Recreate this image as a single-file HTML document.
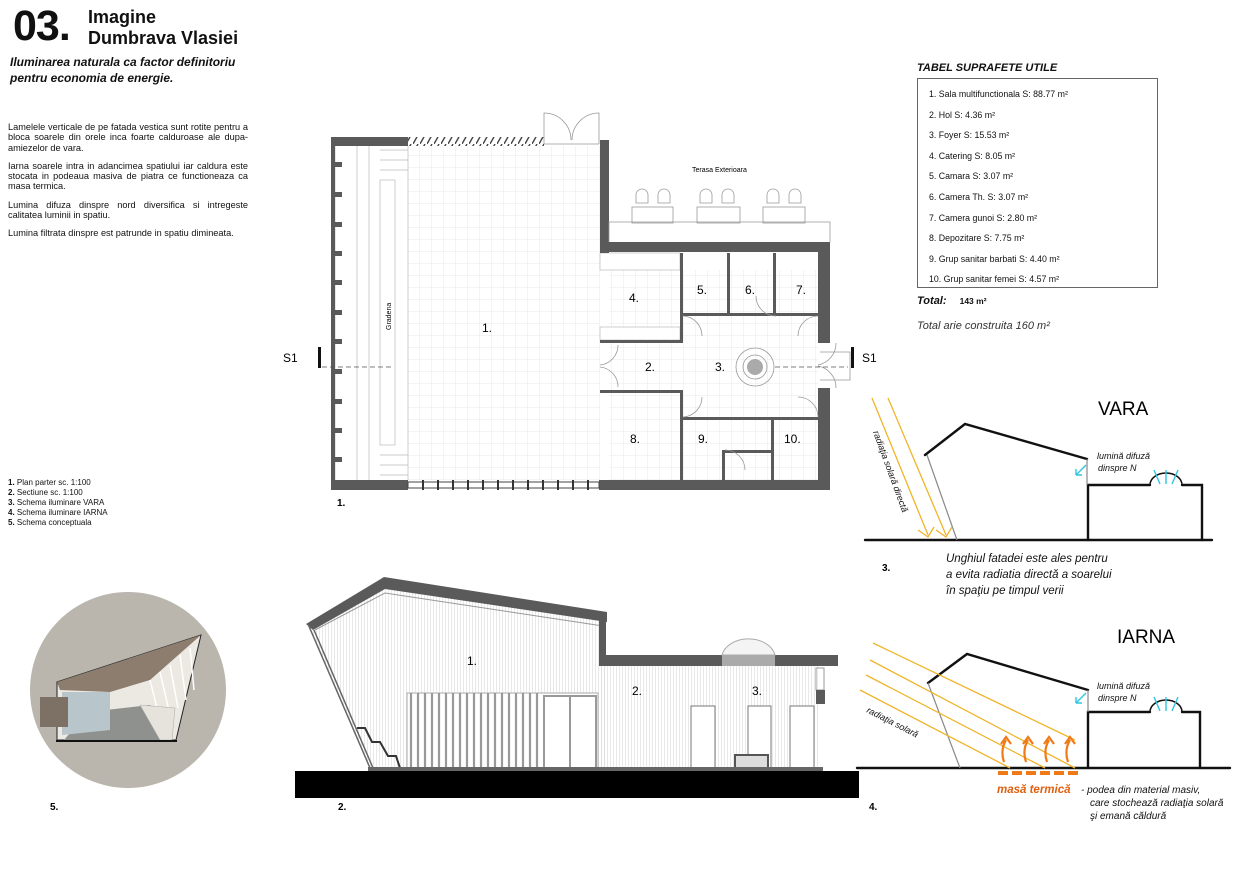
<!DOCTYPE html>
<html><head><meta charset="utf-8"><style>
html,body{margin:0;padding:0;background:#fff;}
body{width:1240px;height:877px;position:relative;overflow:hidden;font-family:"Liberation Sans",sans-serif;color:#111;}
.t{position:absolute;white-space:nowrap;}
.p{position:absolute;left:8px;width:240px;font-size:9.2px;line-height:10.3px;text-align:justify;}
.p div{margin-bottom:8px;}
</style></head><body>
<div class="t" style="left:13px;top:2px;font-size:43px;font-weight:bold;letter-spacing:-1px;">03.</div>
<div class="t" style="left:88px;top:7px;font-size:18px;font-weight:bold;line-height:21px;"><b>Imagine<br>Dumbrava Vlasiei</b></div>
<div class="t" style="left:10px;top:55px;font-size:12px;font-weight:bold;font-style:italic;line-height:15.5px;">Iluminarea naturala ca factor definitoriu<br>pentru economia de energie.</div>
<div class="p" style="top:122px;">
<div>Lamelele verticale de pe fatada vestica sunt rotite pentru a bloca soarele din orele inca foarte calduroase ale dupa-amiezelor de vara.</div>
<div>Iarna soarele intra in adancimea spatiului iar caldura este stocata in podeaua masiva de piatra ce functioneaza ca masa termica.</div>
<div>Lumina difuza dinspre nord diversifica si intregeste calitatea luminii in spatiu.</div>
<div>Lumina filtrata dinspre est patrunde in spatiu dimineata.</div>
</div>
<div class="t" style="left:8px;top:478px;font-size:8px;line-height:10px;"><b>1.</b> Plan parter sc. 1:100<br><b>2.</b> Sectiune sc. 1:100<br><b>3.</b> Schema iluminare VARA<br><b>4.</b> Schema iluminare IARNA<br><b>5.</b> Schema conceptuala</div>

<div class="t" style="left:917px;top:62px;font-size:11px;font-weight:bold;font-style:italic;">TABEL SUPRAFETE UTILE</div>
<div style="position:absolute;left:917px;top:78px;width:239px;height:208px;border:1px solid #666;"></div>
<div class="t" style="left:929px;top:84px;font-size:8.8px;line-height:20.6px;">1. Sala multifunctionala S: 88.77 m²<br>2. Hol S: 4.36 m²<br>3. Foyer S: 15.53 m²<br>4. Catering S: 8.05 m²<br>5. Camara S: 3.07 m²<br>6. Camera Th. S: 3.07 m²<br>7. Camera gunoi S: 2.80 m²<br>8. Depozitare S: 7.75 m²<br>9. Grup sanitar barbati S: 4.40 m²<br>10. Grup sanitar femei S: 4.57 m²</div>
<div class="t" style="left:917px;top:295px;font-size:11px;font-weight:bold;font-style:italic;">Total: <span style="font-size:8.5px;font-style:normal;margin-left:10px;">143 m²</span></div>
<div class="t" style="left:917px;top:320px;font-size:11px;font-style:italic;color:#333;">Total arie construita 160 m²</div>

<svg width="1240" height="877" style="position:absolute;left:0;top:0;" xmlns="http://www.w3.org/2000/svg">
<defs>
<pattern id="g" width="12" height="12" patternUnits="userSpaceOnUse"><path d="M12 0V12H0" fill="none" stroke="#e2e2e2" stroke-width="0.7"/></pattern>
<pattern id="vl" width="3" height="10" patternUnits="userSpaceOnUse"><path d="M1.5 0V10" stroke="#d8d8d8" stroke-width="0.6"/></pattern>
<pattern id="h" width="7" height="9" patternUnits="userSpaceOnUse"><path d="M0 9L5 0" stroke="#444" stroke-width="1.4"/></pattern>
</defs>
<rect x="408" y="146" width="192" height="334" fill="url(#g)"/>
<rect x="609" y="270" width="209" height="210" fill="url(#g)"/>
<g stroke="#bbb" stroke-width="0.7" fill="none">
<line x1="335" y1="146" x2="335" y2="480"/>
<line x1="357" y1="146" x2="357" y2="480"/><line x1="369" y1="146" x2="369" y2="480"/>
<rect x="380" y="180" width="15" height="265" fill="#fff"/>
<line x1="408" y1="146" x2="408" y2="480"/>
<path d="M380 150H408M380 160H408M380 170H408M380 455H408M380 465H408M380 475H408"/>
<rect x="600" y="253" width="80" height="17" fill="#fff"/>
<rect x="600" y="327" width="80" height="13" fill="#fff"/>
</g>
<g fill="#5a5a5a">
<rect x="331" y="137" width="77" height="9"/>
<rect x="600" y="140" width="9" height="113"/>
<rect x="600" y="242" width="230" height="10"/>
<rect x="818" y="242" width="12" height="101"/>
<rect x="818" y="388" width="12" height="102"/>
<rect x="599" y="480" width="231" height="10"/>
<rect x="331" y="480" width="77" height="10"/>
<rect x="331" y="137" width="4" height="353"/>
<rect x="600" y="340" width="83" height="3"/>
<rect x="680" y="253" width="3" height="90"/>
<rect x="680" y="313" width="140" height="3"/>
<rect x="727" y="253" width="3" height="63"/>
<rect x="773" y="253" width="3" height="63"/>
<rect x="600" y="390" width="83" height="3"/>
<rect x="680" y="390" width="3" height="92"/>
<rect x="680" y="417" width="140" height="3"/>
<rect x="771" y="417" width="3" height="63"/>
<rect x="724" y="450" width="48" height="3"/>
<rect x="722" y="450" width="3" height="32"/>
<rect x="331" y="162" width="11" height="5"/><rect x="331" y="192" width="11" height="5"/><rect x="331" y="222" width="11" height="5"/><rect x="331" y="251" width="11" height="5"/><rect x="331" y="280" width="11" height="5"/><rect x="331" y="310" width="11" height="5"/><rect x="331" y="339" width="11" height="5"/><rect x="331" y="369" width="11" height="5"/><rect x="331" y="399" width="11" height="5"/><rect x="331" y="428" width="11" height="5"/><rect x="331" y="457" width="11" height="5"/>
</g>
<rect x="408" y="137" width="136" height="9" fill="url(#h)"/>
<rect x="408" y="482" width="191" height="6" fill="#fff" stroke="#444" stroke-width="1"/>
<g stroke="#333" stroke-width="2"><path d="M423 480v10M438 480v10M453 480v10M468 480v10M483 480v10M498 480v10M513 480v10M528 480v10M543 480v10M558 480v10M573 480v10M588 480v10"/></g>
<g fill="none" stroke="#999" stroke-width="0.8">
<path d="M544 144V113A27 27 0 0 1 571 140M599 144V113A27 27 0 0 0 572 140"/>
<path d="M544 144H599"/>
<circle cx="755" cy="367" r="19"/><circle cx="755" cy="367" r="12"/>
<path d="M618 345A20 20 0 0 1 600 365M618 387A20 20 0 0 0 600 367"/>
<path d="M836 343A22 22 0 0 1 818 365M836 388A22 22 0 0 0 818 366"/>
<path d="M820 352H850V380H820"/>
<rect x="632" y="207" width="41" height="16"/><rect x="697" y="207" width="43" height="16"/><rect x="763" y="207" width="42" height="16"/>
<path d="M636 203v-8a6 6 0 0 1 12 0v8zM658 203v-8a6 6 0 0 1 12 0v8zM700 203v-8a6 6 0 0 1 12 0v8zM722 203v-8a6 6 0 0 1 12 0v8zM767 203v-8a6 6 0 0 1 12 0v8zM789 203v-8a6 6 0 0 1 12 0v8z"/>
<path d="M609 242V222H830V242"/>
<path d="M683 316A20 20 0 0 1 702 336M776 316A20 20 0 0 1 756 296M818 316A20 20 0 0 0 798 336M683 417A20 20 0 0 0 702 397M818 417A20 20 0 0 0 798 397M725 450A20 20 0 0 1 745 470"/>
</g>
<circle cx="755" cy="367" r="8" fill="#aaa"/>
<g stroke="#555" stroke-width="0.8" stroke-dasharray="5,3"><path d="M322 367H392M775 367H848"/></g>
<rect x="318" y="347" width="3" height="21" fill="#111"/>
<rect x="851" y="347" width="3" height="21" fill="#111"/>
<text x="283" y="362" font-size="12">S1</text>
<text x="862" y="362" font-size="12">S1</text>
<text x="391" y="330" font-size="7" transform="rotate(-90 391 330)">Gradena</text>
<text x="692" y="172" font-size="7">Terasa Exterioara</text>
<g font-size="12">
<text x="482" y="332">1.</text><text x="645" y="371">2.</text><text x="715" y="371">3.</text><text x="629" y="302">4.</text><text x="697" y="294">5.</text><text x="745" y="294">6.</text><text x="796" y="294">7.</text><text x="630" y="443">8.</text><text x="698" y="443">9.</text><text x="784" y="443">10.</text>
</g>
<text x="337" y="506" font-size="10" font-weight="bold">1.</text>

<polygon points="308,624 384,580 605,616 605,768 370,768" fill="url(#vl)"/>
<rect x="600" y="665" width="218" height="103" fill="url(#vl)"/>
<path d="M306 624L384 577L607 612V622L385 589L313 630Z" fill="#5a5a5a"/>
<path d="M315 630L385 593L603 626" fill="none" stroke="#999" stroke-width="1"/>
<path d="M308 624L370 768M314 630L373 768" stroke="#666" stroke-width="1.5" fill="none"/>
<rect x="599" y="655" width="239" height="11" fill="#5a5a5a"/>
<rect x="599" y="616" width="7" height="40" fill="#5a5a5a"/>
<path d="M722 655A27 20 0 0 1 775 655Z" fill="#f4f4f4" stroke="#aaa"/>
<rect x="722" y="655" width="53" height="11" fill="#aaa"/>
<rect x="407" y="693" width="191" height="75" fill="#fff" stroke="#aaa"/>
<g stroke="#999" stroke-width="2.2"><path d="M411 693v75M418 693v75M425 693v75M432 693v75M439 693v75M446 693v75M453 693v75M460 693v75M467 693v75M474 693v75M481 693v75M488 693v75M495 693v75M502 693v75M509 693v75M516 693v75M523 693v75M530 693v75M537 693v75"/></g>
<rect x="544" y="696" width="52" height="72" fill="#fff" stroke="#999" stroke-width="2"/>
<line x1="570" y1="696" x2="570" y2="768" stroke="#999" stroke-width="2"/>
<g fill="#fff" stroke="#777"><rect x="691" y="706" width="24" height="62"/><rect x="748" y="706" width="23" height="62"/><rect x="790" y="706" width="24" height="62"/></g>
<rect x="735" y="755" width="33" height="13" fill="#ddd" stroke="#555" stroke-width="2"/>
<rect x="816" y="668" width="8" height="22" fill="none" stroke="#999"/><rect x="816" y="690" width="9" height="14" fill="#5a5a5a"/>
<path d="M357 728L365 728L372 742L380 742L388 756L396 756L400 768" fill="none" stroke="#333" stroke-width="2"/>
<rect x="368" y="767" width="455" height="4" fill="#666"/>
<rect x="295" y="771" width="564" height="27" fill="#000"/>
<g font-size="12"><text x="467" y="665">1.</text><text x="632" y="695">2.</text><text x="752" y="695">3.</text></g>
<text x="338" y="810" font-size="10" font-weight="bold">2.</text>

<circle cx="128" cy="690" r="98" fill="#bab6ae"/>
<polygon points="57,682 201,635 176,740 57,740" fill="#ece8e2" stroke="#222" stroke-width="1"/>
<polygon points="57,682 201,635 150,680 110,692 60,690" fill="#8c7d6e"/>
<polygon points="64,740 88,712 150,705 170,740" fill="#8f918f"/>
<polygon points="62,692 110,692 110,730 62,735" fill="#b8c6cb"/>
<rect x="40" y="697" width="28" height="30" fill="#7d7166"/>
<g stroke="#fff" stroke-width="1.5"><path d="M150 680L160 720M160 672L170 715M170 665L178 708M180 655L186 700M190 648L194 690"/></g>
<path d="M140 705L175 708L172 740L160 740Z" fill="#e6e2dc" stroke="#aaa" stroke-width="0.5"/>
<line x1="56" y1="741" x2="177" y2="741" stroke="#111" stroke-width="2"/>
<text x="50" y="810" font-size="10" font-weight="bold">5.</text>

<g fill="none" stroke="#111" stroke-width="2.4" stroke-linecap="round">
<path d="M865 540H1212"/>
<path d="M925 455L965 424L1087 459"/>
<path d="M1088 540V485H1150M1182 485H1202V540"/>
<path d="M1150 485A16 12 0 0 1 1182 485" stroke-width="1.5"/>
<path d="M857 768H1230"/>
<path d="M928 683L967 654L1088 690"/>
<path d="M1088 768V712H1150M1182 712H1200V768"/>
<path d="M1150 712A16 12 0 0 1 1182 712" stroke-width="1.5"/>
</g>
<g stroke="#888" stroke-width="1.2"><path d="M927 455L957 540M928 683L960 768M1087 459V485M1088 690V712"/></g>
<g stroke="#f0b429" stroke-width="1.3" fill="none">
<path d="M872 398L928 535M888 398L946 535"/>
<path d="M918 530L928 537L934 527M936 530L946 537L952 527"/>
<path d="M870 660L1075 768M866 675L1045 768M860 690L1010 768M873 643L1075 740"/>
</g>
<g stroke="#2ec5e0" stroke-width="1.4" fill="none">
<path d="M1086 465L1076 475M1076 475h6M1076 475v-6M1166 470V484M1154 470L1160 484M1178 470L1172 484"/>
<path d="M1086 693L1076 703M1076 703h6M1076 703v-6M1166 697V711M1154 697L1160 711M1178 697L1172 711"/>
</g>
<g stroke="#f07a18" stroke-width="2.2" fill="none">
<path d="M1004 762Q1000 750 1006 740M1001 744L1006 737L1011 744M1026 762Q1022 750 1028 740M1023 744L1028 737L1033 744M1047 762Q1043 750 1049 740M1044 744L1049 737L1054 744M1068 762Q1064 750 1070 740M1065 744L1070 737L1075 744"/>
<path d="M998 773h10M1012 773h10M1026 773h10M1040 773h10M1054 773h10M1068 773h10" stroke-width="4"/>
</g>
<text x="1098" y="415" font-size="19">VARA</text>
<text x="1117" y="643" font-size="19">IARNA</text>
<g font-size="9" font-style="italic" fill="#111">
<text x="1097" y="459">lumină difuză</text><text x="1098" y="471">dinspre N</text>
<text x="1097" y="689">lumină difuză</text><text x="1098" y="701">dinspre N</text>
<text x="873" y="432" transform="rotate(70 873 432)">radiaţia solară directă</text>
<text x="866" y="712" transform="rotate(27 866 712)">radiaţia solară</text>
</g>
<g font-size="11.5" font-style="italic" fill="#111">
<text x="946" y="562">Unghiul fatadei este ales pentru</text>
<text x="946" y="578">a evita radiatia directă a soarelui</text>
<text x="946" y="594">în spaţiu pe timpul verii</text>
<text x="997" y="793" fill="#e06010" font-weight="bold">masă termică</text>
<text x="1081" y="793" font-size="10">- podea din material masiv,</text>
<text x="1090" y="806" font-size="10">care stochează radiaţia solară</text>
<text x="1090" y="819" font-size="10">şi emană căldură</text>
</g>
<text x="882" y="571" font-size="10" font-weight="bold">3.</text>
<text x="869" y="810" font-size="10" font-weight="bold">4.</text>
</svg>
</body></html>
